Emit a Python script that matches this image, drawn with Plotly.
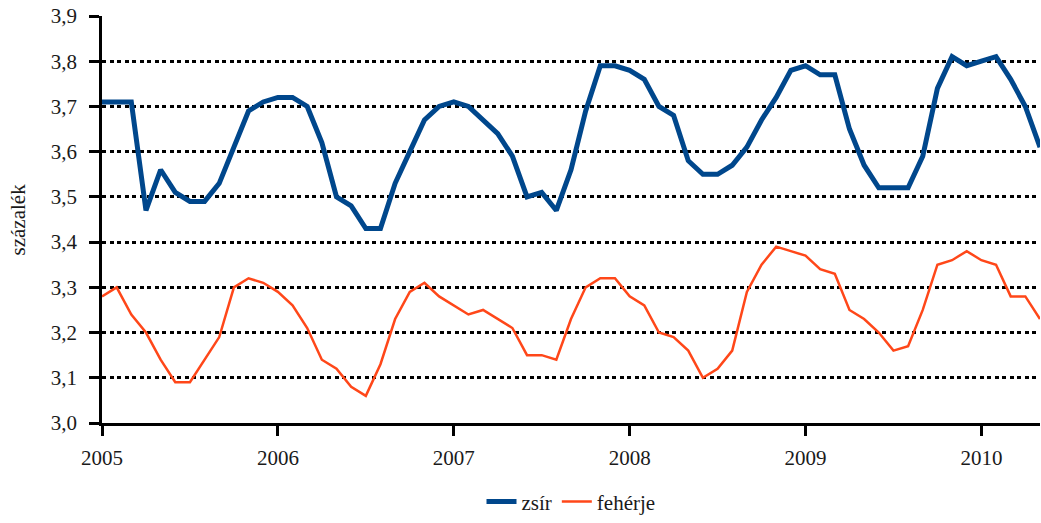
import plotly.graph_objects as go

years = [2005, 2006, 2007, 2008, 2009, 2010]
tick_labels = ["2005", "2006", "2007", "2008", "2009", "2010"]
y_ticks = [3.0, 3.1, 3.2, 3.3, 3.4, 3.5, 3.6, 3.7, 3.8, 3.9]
y_tick_labels = ["3,0", "3,1", "3,2", "3,3", "3,4", "3,5", "3,6", "3,7", "3,8", "3,9"]
n_months = 65

zsir = [3.71, 3.71, 3.71, 3.47, 3.56, 3.51, 3.49, 3.49, 3.53, 3.61, 3.69, 3.71,
        3.72, 3.72, 3.70, 3.62, 3.50, 3.48, 3.43, 3.43, 3.53, 3.60, 3.67, 3.70,
        3.71, 3.70, 3.67, 3.64, 3.59, 3.50, 3.51, 3.47, 3.56, 3.69, 3.79, 3.79,
        3.78, 3.76, 3.70, 3.68, 3.58, 3.55, 3.55, 3.57, 3.61, 3.67, 3.72, 3.78,
        3.79, 3.77, 3.77, 3.65, 3.57, 3.52, 3.52, 3.52, 3.59, 3.74, 3.81, 3.79,
        3.80, 3.81, 3.76, 3.70, 3.61]

feherje = [3.28, 3.30, 3.24, 3.20, 3.14, 3.09, 3.09, 3.14, 3.19, 3.30, 3.32, 3.31,
           3.29, 3.26, 3.21, 3.14, 3.12, 3.08, 3.06, 3.13, 3.23, 3.29, 3.31, 3.28,
           3.26, 3.24, 3.25, 3.23, 3.21, 3.15, 3.15, 3.14, 3.23, 3.30, 3.32, 3.32,
           3.28, 3.26, 3.20, 3.19, 3.16, 3.10, 3.12, 3.16, 3.29, 3.35, 3.39, 3.38,
           3.37, 3.34, 3.33, 3.25, 3.23, 3.20, 3.16, 3.17, 3.25, 3.35, 3.36, 3.38,
           3.36, 3.35, 3.28, 3.28, 3.23]

x = [2005 + i / 12 for i in range(n_months)]

FONT = "Liberation Serif, Times New Roman, serif"
FS = 21
fig = go.Figure()
fig.add_trace(go.Scatter(x=x, y=zsir, mode="lines", name="zsír",
                         line=dict(color="#00478C", width=5)))
fig.add_trace(go.Scatter(x=x, y=feherje, mode="lines", name="fehérje",
                         line=dict(color="#FF4719", width=2.5)))

fig.update_layout(
    width=1041, height=523,
    margin=dict(l=102, r=1, t=16, b=95),
    plot_bgcolor="white", paper_bgcolor="white",
    font=dict(family=FONT, size=FS, color="#1a1a1a"),
    showlegend=True,
    legend=dict(orientation="h", x=0.5, xanchor="center",
                y=-0.194, yanchor="middle", font=dict(size=FS, family=FONT),
                itemwidth=30, traceorder="normal"),
    xaxis=dict(range=[2005, 2005 + (n_months - 1) / 12], tickvals=years,
               ticktext=tick_labels, showgrid=False, zeroline=False,
               showline=True, linecolor="black", linewidth=2.5,
               ticks="outside", ticklen=10, tickwidth=2.5, tickcolor="black",
               ticklabelstandoff=4, automargin=False,
               tickfont=dict(size=FS, family=FONT)),
    yaxis=dict(range=[3.0, 3.9], tickvals=y_ticks, ticktext=y_tick_labels,
               showgrid=True, gridcolor="black", gridwidth=2.5,
               griddash="4px,3.5px", zeroline=False,
               showline=True, linecolor="black", linewidth=2.5,
               ticks="outside", ticklen=10, tickwidth=2.5, tickcolor="black",
               ticklabelstandoff=8, automargin=False,
               tickfont=dict(size=FS, family=FONT)),
    annotations=[dict(text="százalék", xref="paper", yref="paper",
                      x=-0.0896, y=0.5, xanchor="center", yanchor="middle",
                      textangle=-90, showarrow=False,
                      font=dict(size=FS, family=FONT))],
)

fig.write_html("out.html", config={"displayModeBar": False},
               post_script="document.body.style.margin='0';document.body.style.overflow='hidden';")
